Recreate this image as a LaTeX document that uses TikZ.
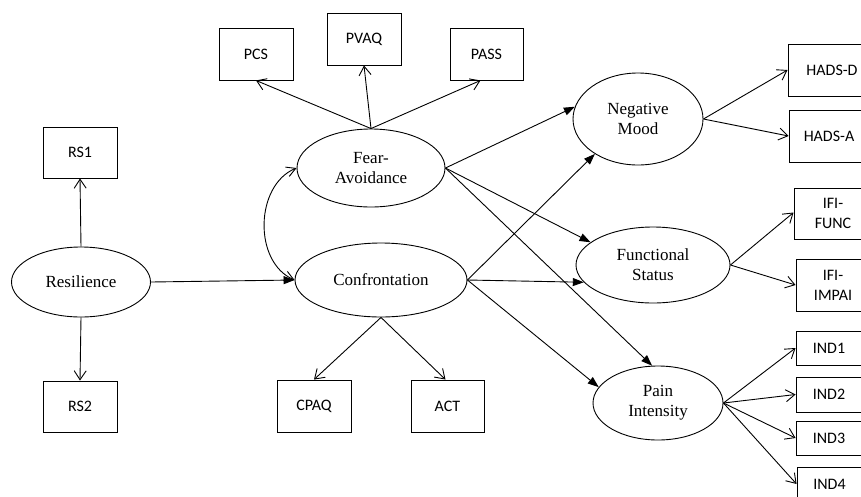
\documentclass[tikz,border=0pt]{standalone}
\usepackage{fontspec}
\setmainfont{Liberation Serif}
\newfontfamily\boxfont{Carlito}
\usetikzlibrary{arrows.meta,shapes.geometric}
\begin{document}
\begin{tikzpicture}[x=1pt,y=-1pt,
  line width=0.9pt,
  lat/.style={ellipse,draw,inner sep=0pt,align=center,font=\fontsize{17}{20}\selectfont},
  obs/.style={rectangle,draw,inner sep=0pt,align=center,font=\boxfont\fontsize{16}{20}\selectfont},
  load/.style={-{Straight Barb[length=9pt,width=12pt,line width=0.9pt]}},
  path/.style={-{Triangle[length=11pt,width=8pt]}},
  cov/.style={{Straight Barb[length=9pt,width=10pt,line width=0.9pt]}-{Straight Barb[length=9pt,width=10pt,line width=0.9pt]}}
]
\useasboundingbox (0,0) rectangle (861,496);
% latent variables
\node[lat,minimum width=148pt,minimum height=78pt] (FA) at (371,168) {Fear-\\Avoidance};
\node[lat,minimum width=172pt,minimum height=74pt] (CO) at (381,280) {Confrontation};
\node[lat,minimum width=139pt,minimum height=70pt] (RE) at (81,282) {Resilience};
\node[lat,minimum width=130pt,minimum height=92pt] (NM) at (638,119) {Negative\\Mood};
\node[lat,minimum width=154pt,minimum height=76pt] (FS) at (653,265) {Functional\\Status};
\node[lat,minimum width=130pt,minimum height=74pt] (PI) at (658,403) {Pain\\Intensity};
% observed variables
\node[obs,minimum width=74pt,minimum height=52pt] (PCS) at (256,54) {PCS};
\node[obs,minimum width=74pt,minimum height=52pt] (PVAQ) at (364,39) {PVAQ};
\node[obs,minimum width=73pt,minimum height=52pt] (PASS) at (486.5,54) {PASS};
\node[obs,minimum width=74pt,minimum height=51pt] (RS1) at (80,152.5) {RS1};
\node[obs,minimum width=74pt,minimum height=51pt] (RS2) at (80,406.5) {RS2};
\node[obs,minimum width=74pt,minimum height=52pt] (CPAQ) at (314,406) {CPAQ};
\node[obs,minimum width=73pt,minimum height=52pt] (ACT) at (447.5,406) {ACT};
\node[obs,minimum width=88pt,minimum height=52pt] (HD) at (832,70) {HADS-D};
\node[obs,minimum width=80pt,minimum height=52pt] (HA) at (829,136) {HADS-A};
\node[obs,minimum width=78pt,minimum height=51pt] (IF) at (833,213.5) {IFI-\\FUNC};
\node[obs,minimum width=74pt,minimum height=52pt] (II) at (833,285) {IFI-\\IMPAI};
\node[obs,minimum width=66pt,minimum height=34pt] (I1) at (829,348) {IND1};
\node[obs,minimum width=66pt,minimum height=35pt] (I2) at (829,394.5) {IND2};
\node[obs,minimum width=66pt,minimum height=34pt] (I3) at (829,438) {IND3};
\node[obs,minimum width=65pt,minimum height=34pt] (I4) at (829.5,484) {IND4};
% loadings
\draw[load] (FA.north) -- (PCS.south);
\draw[load] (FA.north) -- (PVAQ.south);
\draw[load] (FA.north) -- ([xshift=-6pt]PASS.south);
\draw[load] (RE.north) -- (RS1.south);
\draw[load] (RE.south) -- (RS2.north);
\draw[load] (CO.south) -- (CPAQ.north);
\draw[load] (CO.south) -- ([xshift=-2pt]ACT.north);
\draw[load] (NM.east) -- (HD.west);
\draw[load] (NM.east) -- (HA.west);
\draw[load] (FS.east) -- ([yshift=1pt]IF.west);
\draw[load] (FS.east) -- (II.west);
\draw[load] (PI.east) -- (I1.west);
\draw[load] (PI.east) -- (I2.west);
\draw[load] (PI.east) -- (I3.west);
\draw[load] (PI.east) -- (I4.west);
% structural paths
\draw[path] (RE.east) -- (CO.west);
\draw[path] (FA.east) -- (NM.169);
\draw[path] (FA.east) -- (FS.160);
\draw[path] (FA.east) -- (PI.99);
\draw[path] (CO.east) -- (NM.219);
\draw[path] (CO.east) -- (FS.194);
\draw[path] (CO.east) -- (PI.165);
% covariance
\draw[cov] (FA.west) .. controls (255,185) and (253,262) .. (CO.west);
\end{tikzpicture}
\end{document}
